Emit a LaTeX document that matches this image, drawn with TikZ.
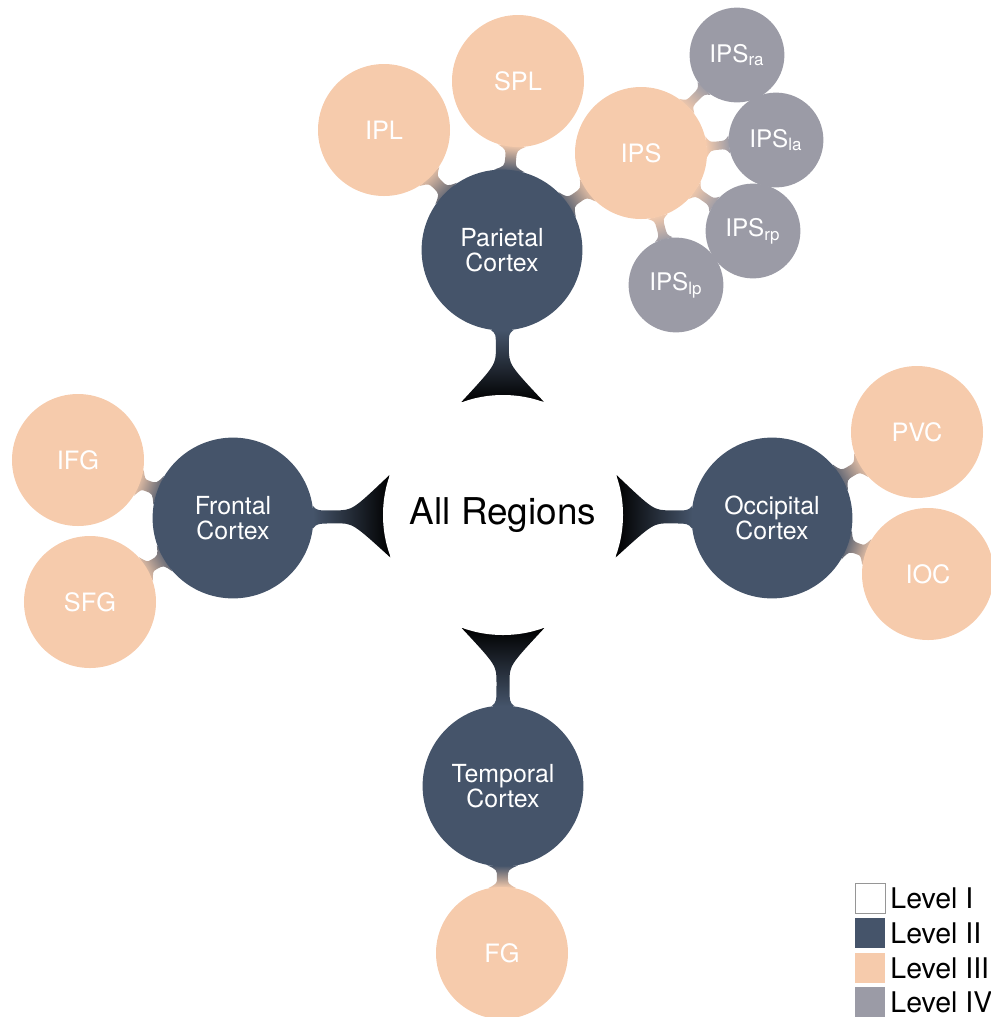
\documentclass[tikz,border=0pt]{standalone}
\usepackage{fontspec}
\setmainfont{TeX Gyre Heros}
\usetikzlibrary{calc,backgrounds}
\definecolor{lvtwo}{RGB}{69,84,106}
\definecolor{lvthree}{RGB}{246,203,172}
\definecolor{lvfour}{RGB}{155,155,166}
\definecolor{legframe}{RGB}{150,150,150}
\tikzset{
  base/.style={circle, inner sep=0pt, align=center, draw=none},
  lone/.style={base, fill=white, text=black, minimum size=4cm, font=\fontsize{17.5}{19}\selectfont},
  ltwo/.style={base, fill=lvtwo, text=white, minimum size=2.68cm, font=\fontsize{11.8}{12}\selectfont},
  lthree/.style={base, fill=lvthree, text=white, minimum size=2.2cm, font=\fontsize{12}{13}\selectfont},
  lfour/.style={base, fill=lvfour, text=white, minimum size=1.58cm, font=\fontsize{11.5}{13}\selectfont},
  shA/.style={top color=black, bottom color=lvtwo},
  shB/.style={top color=lvtwo, bottom color=lvthree},
  shC/.style={top color=lvthree, bottom color=lvfour},
  legbox/.style={minimum size=0.5cm, inner sep=0pt},
  legtext/.style={anchor=west, inner sep=0pt, font=\fontsize{13.5}{14}\selectfont, text=black}
}
% #1 from node, #2 to node, #3 flare angle at #1, #4 flare angle at #2,
% #5 neck half width (px), #6 control offset from #1 border (px),
% #7 neck position from #1 border (px), #8 control offset from #2 border (px), #9 shading style
\newcommand\cbar[9]{%
  \pgfpointdiff{\pgfpointanchor{#1}{center}}{\pgfpointanchor{#2}{center}}%
  \pgfgetlastxy{\cbx}{\cby}%
  \pgfmathsetmacro\cbang{atan2(\cby,\cbx)}%
  \pgfmathsetmacro\cbd{veclen(\cbx,\cby)}%
  \pgfpointdiff{\pgfpointanchor{#1}{center}}{\pgfpointanchor{#1}{east}}%
  \pgfgetlastxy{\cbra}{\cbdum}%
  \pgfpointdiff{\pgfpointanchor{#2}{center}}{\pgfpointanchor{#2}{east}}%
  \pgfgetlastxy{\cbrb}{\cbdum}%
  \pgfmathsetmacro\cbw{#5*0.4743}%
  \pgfmathsetmacro\cbka{\cbra+#6*0.4743}%
  \pgfmathsetmacro\cbn{\cbra+#7*0.4743}%
  \pgfmathsetmacro\cbkb{\cbd-\cbrb-#8*0.4743}%
  \pgfmathsetmacro\cbsh{\cbang+90}%
  \pgfmathsetmacro\cbpl{\cbang+#3}%
  \pgfmathsetmacro\cbpr{\cbang-#3}%
  \pgfmathsetmacro\cbql{\cbang+180-#4}%
  \pgfmathsetmacro\cbqr{\cbang+180+#4}%
  \pgfmathsetmacro\cbnl{\cbang+90}%
  \pgfmathsetmacro\cbnr{\cbang-90}%
  \shade[#9, shading angle=\cbsh]
   ($(#1.center)+(\cbpl:\cbra)$)
   .. controls ($(#1.center)+(\cbang:\cbka pt)+(\cbnl:\cbw pt)$) .. ($(#1.center)+(\cbang:\cbn pt)+(\cbnl:\cbw pt)$)
   .. controls ($(#1.center)+(\cbang:\cbkb pt)+(\cbnl:\cbw pt)$) .. ($(#2.center)+(\cbql:\cbrb)$)
   -- ($(#2.center)+(\cbqr:\cbrb)$)
   .. controls ($(#1.center)+(\cbang:\cbkb pt)+(\cbnr:\cbw pt)$) .. ($(#1.center)+(\cbang:\cbn pt)+(\cbnr:\cbw pt)$)
   .. controls ($(#1.center)+(\cbang:\cbka pt)+(\cbnr:\cbw pt)$) .. ($(#1.center)+(\cbpr:\cbra)$)
   -- cycle;%
}
\begin{document}
\begin{tikzpicture}[x=1cm/60, y=-1cm/60]
\useasboundingbox (0,0) rectangle (991,1017);
\node[lone] (root) at (503,515) {All Regions};
\node[ltwo] (par) at (502,250) {Parietal\\Cortex};
\node[ltwo] (fro) at (233,518) {Frontal\\Cortex};
\node[ltwo] (occ) at (772,518) {Occipital\\Cortex};
\node[ltwo] (tem) at (503,786) {Temporal\\Cortex};
\node[lthree] (ipl) at (384,130) {IPL};
\node[lthree] (spl) at (518,81) {SPL};
\node[lthree] (ips) at (641,153) {IPS};
\node[lthree] (ifg) at (78,460) {IFG};
\node[lthree] (sfg) at (90,602) {SFG};
\node[lthree] (pvc) at (917,432) {PVC};
\node[lthree] (ioc) at (928,574) {IOC};
\node[lthree] (fg) at (502,953) {FG};
\node[lfour] (ipsra) at (737,55) {IPS\textsubscript{ra}};
\node[lfour] (ipsla) at (776,140) {IPS\textsubscript{la}};
\node[lfour] (ipsrp) at (753,231) {IPS\textsubscript{rp}};
\node[lfour] (ipslp) at (676,285) {IPS\textsubscript{lp}};
\begin{scope}[on background layer]
\cbar{root}{par}{20}{8}{6.5}{30}{47}{3}{shA}
\cbar{root}{fro}{20}{8}{6.5}{30}{47}{3}{shA}
\cbar{root}{occ}{20}{8}{6.5}{30}{47}{3}{shA}
\cbar{root}{tem}{20}{8}{6.5}{30}{47}{3}{shA}
\cbar{par}{ipl}{11}{12}{5.5}{3}{11}{3}{shB}
\cbar{par}{spl}{11}{12}{5.5}{3}{11}{3}{shB}
\cbar{par}{ips}{11}{12}{5.5}{3}{11}{3}{shB}
\cbar{fro}{ifg}{11}{12}{5.5}{3}{11}{3}{shB}
\cbar{fro}{sfg}{11}{12}{5.5}{3}{11}{3}{shB}
\cbar{occ}{pvc}{11}{12}{5.5}{3}{11}{3}{shB}
\cbar{occ}{ioc}{11}{12}{5.5}{3}{11}{3}{shB}
\cbar{tem}{fg}{11}{12}{5.5}{3}{11}{3}{shB}
\cbar{ips}{ipsra}{9}{11}{4.2}{3}{11}{3}{shC}
\cbar{ips}{ipsla}{9}{11}{4.2}{3}{11}{3}{shC}
\cbar{ips}{ipsrp}{9}{11}{4.2}{3}{11}{3}{shC}
\cbar{ips}{ipslp}{9}{11}{4.2}{3}{11}{3}{shC}
\end{scope}
\node[legbox, draw=legframe, fill=white] (k1) at (870,898) {};
\node[legbox, fill=lvtwo] (k2) at (870,933) {};
\node[legbox, fill=lvthree] (k3) at (870,968) {};
\node[legbox, fill=lvfour] (k4) at (870,1002) {};
\node[legtext] (t1) at (890,898) {Level I};
\node[legtext] (t2) at (890,933) {Level II};
\node[legtext] (t3) at (890,968) {Level III};
\node[legtext] (t4) at (890,1002) {Level IV};
\end{tikzpicture}
\end{document}
